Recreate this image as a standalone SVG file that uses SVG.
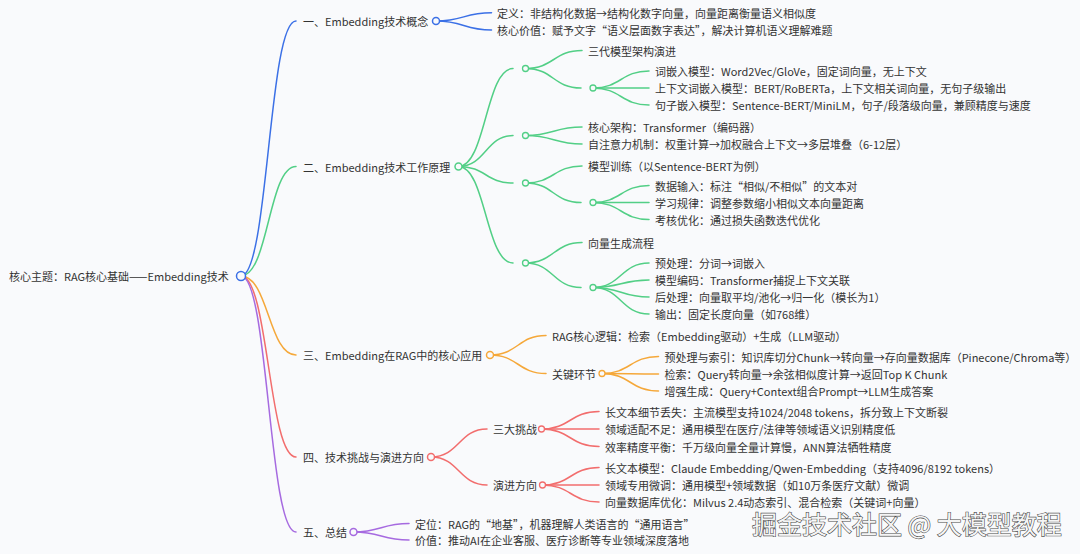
<svg xmlns="http://www.w3.org/2000/svg" width="1080" height="554" viewBox="0 0 1080 554">
<style>
text { font-family: "Noto Sans CJK SC", "Noto Sans", sans-serif; font-size: 11px; fill: #333; dominant-baseline: central; }
.ln { fill: none; stroke-width: 1.5; stroke-linecap: round; }
.b { stroke: #3b70e6; }
.g { stroke: #52cf86; }
.o { stroke: #f5a83a; }
.r { stroke: #f26d6d; }
.p { stroke: #a66ae0; }
circle { fill: #f9fafc; stroke-width: 1.5; }
circle.s { stroke-width: 1.3; }
.wm { font-size: 25px; fill: #f4f4f4; stroke: #4a4a4a; stroke-width: 1.2px; paint-order: stroke fill; }
</style>
<rect width="1080" height="554" fill="#f9fafc"/>
<g id="connectors">
  <path class="ln b" d="M241 276 C268.5 276 268.5 21 296 21"/>
  <path class="ln g" d="M241 276 C268.5 276 268.5 166.5 296 166.5"/>
  <path class="ln o" d="M241 276 C268.5 276 268.5 355 296 355"/>
  <path class="ln r" d="M241 276 C268.5 276 268.5 457 296 457"/>
  <path class="ln p" d="M241 276 C268.5 276 268.5 532 296 532"/>
  <path class="ln b" d="M436 21 C463.75 21 463.75 12.7 491.5 12.7"/>
  <path class="ln b" d="M436 21 C463.75 21 463.75 30 491.5 30"/>
  <path class="ln g" d="M458.5 166.5 C485.75 166.5 485.75 68.5 513 68.5"/>
  <path class="ln g" d="M458.5 166.5 C485.75 166.5 485.75 135.5 513 135.5"/>
  <path class="ln g" d="M458.5 166.5 C485.75 166.5 485.75 183 513 183"/>
  <path class="ln g" d="M458.5 166.5 C485.75 166.5 485.75 263 513 263"/>
  <path class="ln g" d="M525.5 68.5 C553.75 68.5 553.75 50.5 582 50.5"/>
  <path class="ln g" d="M525.5 68.5 C553.25 68.5 553.25 88 581 88"/>
  <path class="ln g" d="M593 88 C621 88 621 71 649 71"/>
  <path class="ln g" d="M593 88 L649 88"/>
  <path class="ln g" d="M593 88 C621 88 621 105 649 105"/>
  <path class="ln g" d="M525.5 135.5 C553.75 135.5 553.75 127 582 127"/>
  <path class="ln g" d="M525.5 135.5 C553.75 135.5 553.75 144 582 144"/>
  <path class="ln g" d="M525.5 183 C553.75 183 553.75 166 582 166"/>
  <path class="ln g" d="M525.5 183 C553.25 183 553.25 202.5 581 202.5"/>
  <path class="ln g" d="M593 202.5 C621 202.5 621 185.5 649 185.5"/>
  <path class="ln g" d="M593 202.5 L649 202.5"/>
  <path class="ln g" d="M593 202.5 C621 202.5 621 219.5 649 219.5"/>
  <path class="ln g" d="M525.5 263 C553.75 263 553.75 242.5 582 242.5"/>
  <path class="ln g" d="M525.5 263 C553.25 263 553.25 287.5 581 287.5"/>
  <path class="ln g" d="M593 287.5 C621 287.5 621 263 649 263"/>
  <path class="ln g" d="M593 287.5 C621 287.5 621 280 649 280"/>
  <path class="ln g" d="M593 287.5 C621 287.5 621 297 649 297"/>
  <path class="ln g" d="M593 287.5 C621 287.5 621 314 649 314"/>
  <path class="ln o" d="M490 355 C518 355 518 335.5 546 335.5"/>
  <path class="ln o" d="M490 355 C518 355 518 373.5 546 373.5"/>
  <path class="ln o" d="M602 373.5 C630.25 373.5 630.25 356.5 658.5 356.5"/>
  <path class="ln o" d="M602 373.5 C630.25 373.5 630.25 374 658.5 374"/>
  <path class="ln o" d="M602 373.5 C630.25 373.5 630.25 391 658.5 391"/>
  <path class="ln r" d="M431 457 C459 457 459 429 487 429"/>
  <path class="ln r" d="M431 457 C459 457 459 485 487 485"/>
  <path class="ln r" d="M541.5 429 C570.25 429 570.25 411.5 599 411.5"/>
  <path class="ln r" d="M541.5 429 L599 429"/>
  <path class="ln r" d="M541.5 429 C570.25 429 570.25 446.5 599 446.5"/>
  <path class="ln r" d="M542.5 485 C570.75 485 570.75 467.5 599 467.5"/>
  <path class="ln r" d="M542.5 485 L599 485"/>
  <path class="ln r" d="M542.5 485 C570.75 485 570.75 502 599 502"/>
  <path class="ln p" d="M353.5 532 C381.25 532 381.25 523.5 409 523.5"/>
  <path class="ln p" d="M353.5 532 C381.25 532 381.25 540 409 540"/>
</g>
<g id="root">
  <text x="9" y="276">核心主题：RAG核心基础——Embedding技术</text>
  <circle class="b" cx="241" cy="276" r="4.5" stroke-width="1.8"/>
</g>
<g id="n1">
  <text x="303" y="21">一、Embedding技术概念</text>
  <circle class="b" cx="436" cy="21" r="3.5"/>
</g>
<g id="n1-1"><text x="497" y="12.7">定义：非结构化数据→结构化数字向量，向量距离衡量语义相似度</text></g>
<g id="n1-2"><text x="497" y="30">核心价值：赋予文字“语义层面数字表达”，解决计算机语义理解难题</text></g>
<g id="n2">
  <text x="303" y="166.5">二、Embedding技术工作原理</text>
  <circle class="g" cx="458.5" cy="166.5" r="3.5"/>
</g>
<g id="n2-a"><circle class="g s" cx="525.5" cy="68.5" r="3"/></g>
<g id="n2-a1"><text x="588" y="50.5">三代模型架构演进</text></g>
<g id="n2-a2"><circle class="g s" cx="593" cy="88" r="3"/></g>
<g id="n2-a2-1"><text x="655" y="71">词嵌入模型：Word2Vec/GloVe，固定词向量，无上下文</text></g>
<g id="n2-a2-2"><text x="655" y="88">上下文词嵌入模型：BERT/RoBERTa，上下文相关词向量，无句子级输出</text></g>
<g id="n2-a2-3"><text x="655" y="105">句子嵌入模型：Sentence-BERT/MiniLM，句子/段落级向量，兼顾精度与速度</text></g>
<g id="n2-b"><circle class="g s" cx="525.5" cy="135.5" r="3"/></g>
<g id="n2-b1"><text x="588" y="127">核心架构：Transformer（编码器）</text></g>
<g id="n2-b2"><text x="588" y="144">自注意力机制：权重计算→加权融合上下文→多层堆叠（6-12层）</text></g>
<g id="n2-c"><circle class="g s" cx="525.5" cy="183" r="3"/></g>
<g id="n2-c1"><text x="588" y="166">模型训练（以Sentence-BERT为例）</text></g>
<g id="n2-c2"><circle class="g s" cx="593" cy="202.5" r="3"/></g>
<g id="n2-c2-1"><text x="655" y="185.5">数据输入：标注“相似/不相似”的文本对</text></g>
<g id="n2-c2-2"><text x="655" y="202.5">学习规律：调整参数缩小相似文本向量距离</text></g>
<g id="n2-c2-3"><text x="655" y="219.5">考核优化：通过损失函数迭代优化</text></g>
<g id="n2-d"><circle class="g s" cx="525.5" cy="263" r="3"/></g>
<g id="n2-d1"><text x="588" y="242.5">向量生成流程</text></g>
<g id="n2-d2"><circle class="g s" cx="593" cy="287.5" r="3"/></g>
<g id="n2-d2-1"><text x="655" y="263">预处理：分词→词嵌入</text></g>
<g id="n2-d2-2"><text x="655" y="280">模型编码：Transformer捕捉上下文关联</text></g>
<g id="n2-d2-3"><text x="655" y="297">后处理：向量取平均/池化→归一化（模长为1）</text></g>
<g id="n2-d2-4"><text x="655" y="314">输出：固定长度向量（如768维）</text></g>
<g id="n3">
  <text x="303" y="355">三、Embedding在RAG中的核心应用</text>
  <circle class="o" cx="490" cy="355" r="3.5"/>
</g>
<g id="n3-1"><text x="552" y="335.5">RAG核心逻辑：检索（Embedding驱动）+生成（LLM驱动）</text></g>
<g id="n3-2">
  <text x="552" y="373.5">关键环节</text>
  <circle class="o s" cx="602" cy="373.5" r="3"/>
</g>
<g id="n3-2-1"><text x="664.5" y="356.5">预处理与索引：知识库切分Chunk→转向量→存向量数据库（Pinecone/Chroma等）</text></g>
<g id="n3-2-2"><text x="664.5" y="374">检索：Query转向量→余弦相似度计算→返回Top K Chunk</text></g>
<g id="n3-2-3"><text x="664.5" y="391">增强生成：Query+Context组合Prompt→LLM生成答案</text></g>
<g id="n4">
  <text x="303" y="457">四、技术挑战与演进方向</text>
  <circle class="r" cx="431" cy="457" r="3.5"/>
</g>
<g id="n4-1">
  <text x="493" y="429">三大挑战</text>
  <circle class="r s" cx="541.5" cy="429" r="3"/>
</g>
<g id="n4-1-1"><text x="605" y="411.5">长文本细节丢失：主流模型支持1024/2048 tokens，拆分致上下文断裂</text></g>
<g id="n4-1-2"><text x="605" y="429">领域适配不足：通用模型在医疗/法律等领域语义识别精度低</text></g>
<g id="n4-1-3"><text x="605" y="446.5">效率精度平衡：千万级向量全量计算慢，ANN算法牺牲精度</text></g>
<g id="n4-2">
  <text x="493" y="485">演进方向</text>
  <circle class="r s" cx="542.5" cy="485" r="3"/>
</g>
<g id="n4-2-1"><text x="605" y="467.5">长文本模型：Claude Embedding/Qwen-Embedding（支持4096/8192 tokens）</text></g>
<g id="n4-2-2"><text x="605" y="485">领域专用微调：通用模型+领域数据（如10万条医疗文献）微调</text></g>
<g id="n4-2-3"><text x="605" y="502">向量数据库优化：Milvus 2.4动态索引、混合检索（关键词+向量）</text></g>
<g id="n5">
  <text x="303" y="532">五、总结</text>
  <circle class="p" cx="353.5" cy="532" r="3.5"/>
</g>
<g id="n5-1"><text x="415" y="523.5">定位：RAG的“地基”，机器理解人类语言的“通用语言”</text></g>
<g id="n5-2"><text x="415" y="540">价值：推动AI在企业客服、医疗诊断等专业领域深度落地</text></g>
<g id="watermark"><text class="wm" x="752" y="523">掘金技术社区 @ 大模型教程</text></g>
</svg>
